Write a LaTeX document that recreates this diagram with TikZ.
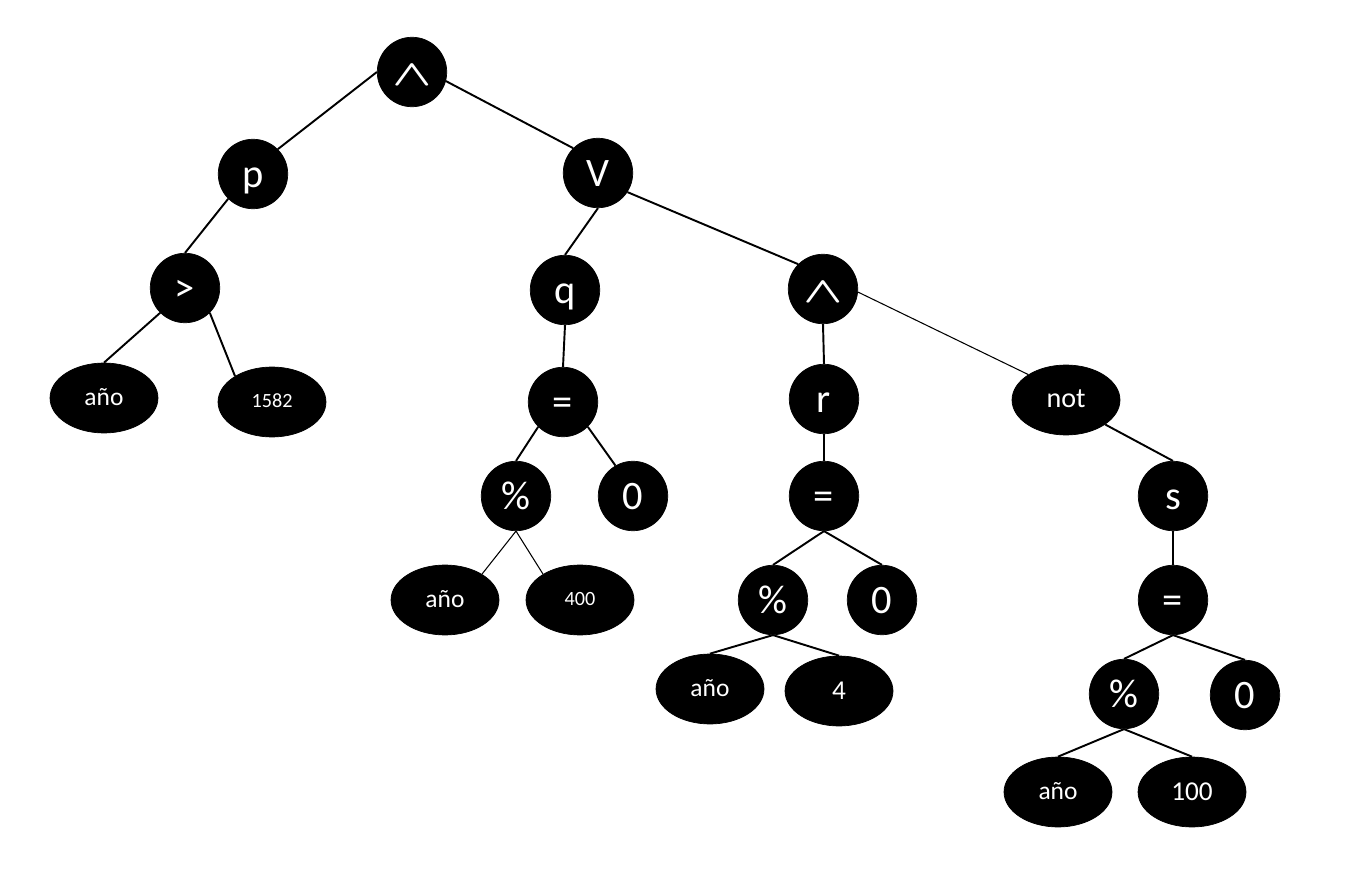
\documentclass[tikz,border=0pt]{standalone}
\usepackage{graphicx}
\usepackage{fontspec}
\setmainfont{Carlito}
\usetikzlibrary{shapes.geometric}

\newcommand{\andsign}{{\boldmath\scalebox{1.18}[0.83]{$\wedge$}}}

\begin{document}
\begin{tikzpicture}[x=0.02cm,y=-0.02cm,
    every node/.style={draw=black,fill=black,text=white,inner sep=0pt},
    op/.style={circle,minimum size=1.39cm,font=\fontsize{23}{23}\selectfont,text height=18.5pt,text depth=3.5pt},
    leaf/.style={ellipse,minimum width=2.16cm,minimum height=1.4cm,font=\fontsize{14.5}{14.5}\selectfont,text height=11.5pt,text depth=2.5pt},
    num/.style={leaf,font=\fontsize{11.5}{11.5}\selectfont,text height=8.3pt,text depth=2pt},
    bignum/.style={leaf,font=\fontsize{15.5}{15.5}\selectfont,text height=12pt,text depth=2pt},
    every edge/.style={draw,line width=1.1pt}]
                \useasboundingbox (0,0) rectangle (1352,878);

                \node[op] (1) at (412,72) {\andsign};
                \node[op] (2) at (253,174) {p};
                \node[op] (3) at (598,173) {V};
                \node[op] (4) at (185,288) {>};
                \node[leaf] (5) at (104,398) {año};
                \node[num] (6) at (272,402) {1582};
                \node[op] (7) at (565,290) {q};
                \node[op] (8) at (823,289) {\andsign};
                \node[op] (9) at (563,402) {=};
                \node[op] (10) at (516,496) {\%};
                \node[op] (11) at (633,496) {0};
                \node[leaf] (12) at (445,600) {año};
                \node[num] (13) at (580,600) {400};
                \node[op] (14) at (824,399) {r};
                \node[leaf,font=\fontsize{16}{16}\selectfont] (15) at (1066,400) {not};
                \node[op] (16) at (824,496) {=};
                \node[op] (17) at (773,600) {\%};
                \node[op] (18) at (882,600) {0};
                \node[leaf] (19) at (710,689) {año};
                \node[bignum] (20) at (839,691) {4};
                \node[op] (21) at (1173,496) {s};
                \node[op] (22) at (1173,600) {=};
                \node[op] (23) at (1124,694) {\%};
                \node[op] (24) at (1245,695) {0};
                \node[leaf] (25) at (1058,792) {año};
                \node[bignum] (26) at (1192,792) {100};

                \path [-] (1.west) edge (2.north east);
                \path [-] (1.-15) edge (3.north west);
                \path [-] (2.south west) edge (4.north);
                \path [-] (4.south west) edge (5.north);
                \path [-] (4.south east) edge (6.145);
                \path [-] (3.south) edge (7.north);
                \path [-] (3.-33) edge (8.north west);
                \path [-] (7.south) edge (9.north);
                \path [-] (9.south west) edge (10.north);
                \path [-] (9.south east) edge (11.120);
                \path [-] (10.south) edge[line width=0.6pt] (12.35);
                \path [-] (10.south) edge[line width=0.6pt] (13.145);
                \path [-] (8.south) edge (14.north);
                \path [-] (8.-5) edge[line width=0.6pt] (15.146);
                \path [-] (14.south) edge (16.north);
                \path [-] (16.south) edge (17.north);
                \path [-] (16.south) edge (18.north);
                \path [-] (17.south) edge (19.north);
                \path [-] (17.south) edge (20.north);
                \path [-] (15.-32) edge (21.north);
                \path [-] (21.south) edge (22.north);
                \path [-] (22.south) edge (23.north);
                \path [-] (22.south) edge (24.north);
                \path [-] (23.south) edge (25.north);
                \path [-] (23.south) edge (26.north);
            \end{tikzpicture}
\end{document}
